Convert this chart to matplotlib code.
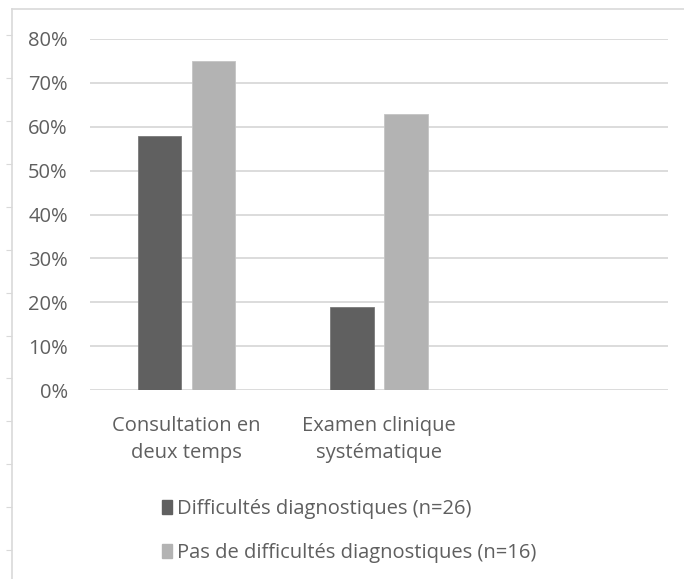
import matplotlib
matplotlib.use('Agg')
import matplotlib.pyplot as plt
from matplotlib.patches import Patch
from matplotlib.ticker import PercentFormatter
import numpy as np

# données
categories = ['Consultation en\ndeux temps', 'Examen clinique\nsystématique', '']
difficultes = [0.58, 0.19, np.nan]
pas_difficultes = [0.75, 0.63, np.nan]
series_labels = ['Difficultés diagnostiques (n=26)',
                 'Pas de difficultés diagnostiques (n=16)']
yticks = [0, 0.1, 0.2, 0.3, 0.4, 0.5, 0.6, 0.7, 0.8]

plt.rcParams['font.family'] = ['Open Sans', 'DejaVu Sans']
W, H = 684, 579
fig = plt.figure(figsize=(W / 100, H / 100), dpi=100)

couleur_fonce = '#606060'
couleur_clair = '#b3b3b3'
couleur_texte = '#5f5f5f'

# cadre extérieur (bord gauche + haut avec petites graduations)
cadre = fig.add_axes([12 / W, 0, 1 - 12 / W, (H - 9) / H])
cadre.set_xlim(0, 1)
cadre.set_ylim(0, H - 9)
cadre.patch.set_alpha(0)
for s in ['right', 'bottom']:
    cadre.spines[s].set_visible(False)
for s in ['left', 'top']:
    cadre.spines[s].set_color('#d9d9d9')
    cadre.spines[s].set_linewidth(1.2)
cadre.set_xticks([])
cadre.set_yticks(np.arange(H - 550, H - 9, 42.9))
cadre.tick_params(axis='y', length=4, color='#d9d9d9', labelleft=False)

# graphique principal
ax = fig.add_axes([90 / W, (H - 390) / H, 578 / W, 351 / H])
x = np.arange(len(categories))
largeur = 0.225
decalage = 0.14
ax.bar(x - decalage, difficultes, largeur, color=couleur_fonce,
       edgecolor='#7a7a7a', linewidth=0.6, zorder=3)
ax.bar(x + decalage, pas_difficultes, largeur, color=couleur_clair,
       edgecolor='#c4c4c4', linewidth=0.6, zorder=3)

ax.set_xlim(-0.5, len(categories) - 0.5)
ax.set_ylim(0, 0.8)
ax.set_yticks(yticks)
ax.yaxis.set_major_formatter(PercentFormatter(1.0, decimals=0))
ax.set_xticks(x)
ax.set_xticklabels(categories, linespacing=1.42, fontsize=14.5)
ax.grid(axis='y', color='#d9d9d9', linewidth=1.3, zorder=0)
for s in ax.spines.values():
    s.set_visible(False)
ax.tick_params(axis='both', length=0, colors=couleur_texte)
ax.tick_params(axis='y', labelsize=14.5, pad=16)
ax.tick_params(axis='x', pad=19)

# légende
poignees = [Patch(color=couleur_fonce), Patch(color=couleur_clair)]
fig.legend(poignees, series_labels, loc='upper left',
           bbox_to_anchor=(144 / W, 1 - 481 / H), frameon=False,
           fontsize=14.5, labelcolor=couleur_texte, handlelength=0.5,
           handleheight=0.65, handletextpad=0.25, labelspacing=1.2)

fig.savefig('out.png', dpi=100)
